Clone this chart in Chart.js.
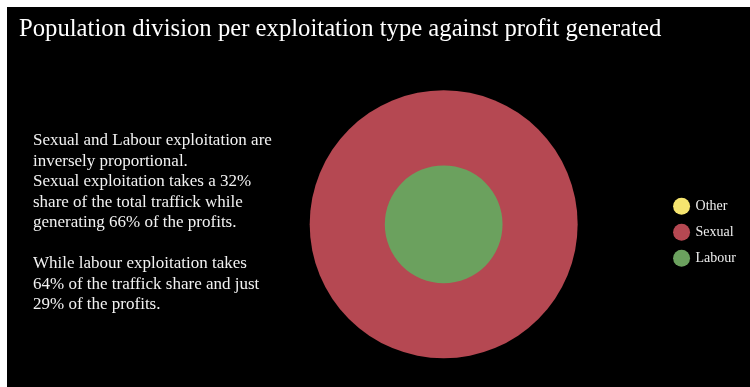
<!DOCTYPE html>
<html>
<head>
	<script src="https://cdn.jsdelivr.net/npm/chart.js@4"></script>
	<style>
		body{margin:0;background:#fff;}
		#panel{position:absolute;left:7px;top:7px;width:743px;height:380px;background:#000;}
		#note{position:absolute;left:26px;top:123px;white-space:nowrap;color:#f2f2f2;font-family:"Liberation Serif",serif;font-size:17px;line-height:20.5px;}
		#note p{margin:0 0 20.5px 0;}
	</style>
</head>
<body>
	<div id="panel">
		<canvas id="bubbleChart" width="743" height="380"></canvas>
		<div id="note">
			<p>Sexual and Labour exploitation are<br>inversely proportional.<br>Sexual exploitation takes a 32%<br>share of the total traffick while<br>generating 66% of the profits.</p>
			<p>While labour exploitation takes<br>64% of the traffick share and just<br>29% of the profits.</p>
		</div>
	</div>
<script>
	// exploitation types, their share of traffick and of profits (%)
	var types = ["Other","Sexual","Labour"];
	var trafficShare = [4,32,64];
	var profitShare = [5,66,29];
	var colors = ["#f6e56f","#b54852","#6ba15e"];
	var pxPerPercent = 2.03;

	var datasets = [];
	for(var i = 0;i<types.length;i++){
		datasets.push({
			label:types[i],
			data:[{x:0,y:0,r:profitShare[i]*pxPerPercent,share:trafficShare[i]}],
			backgroundColor:colors[i],
			borderColor:colors[i],
			borderWidth:0,
			hoverBorderWidth:0,
			clip:false,
			// smaller bubbles go on top
			order:types.length-i
		});
	}

	var target = document.querySelector("#bubbleChart").getContext("2d");
	var chart = new Chart(target,{
		type:"bubble",
		data:{datasets:datasets},
		options:{
			responsive:false,
			animation:false,
			layout:{autoPadding:false,padding:{left:12,right:4,top:0,bottom:0}},
			scales:{
				x:{display:false,min:-1.94,max:1},
				y:{display:false,min:-1.11,max:1}
			},
			plugins:{
				title:{
					display:true,
					text:"Population division per exploitation type against profit generated",
					align:"start",
					color:"#ffffff",
					font:{family:"Liberation Serif",size:24.7,weight:"normal"},
					padding:{top:8,bottom:33}
				},
				legend:{
					position:"right",
					fullSize:false,
					labels:{
						usePointStyle:true,
						pointStyle:"circle",
						boxHeight:12,
						boxWidth:14,
						padding:12,
						color:"#eeeeee",
						font:{family:"Liberation Serif",size:14},
						sort:function(a,b){return a.datasetIndex-b.datasetIndex;}
					}
				},
				tooltip:{enabled:false}
			}
		}
	});
</script>
</body>
</html>
